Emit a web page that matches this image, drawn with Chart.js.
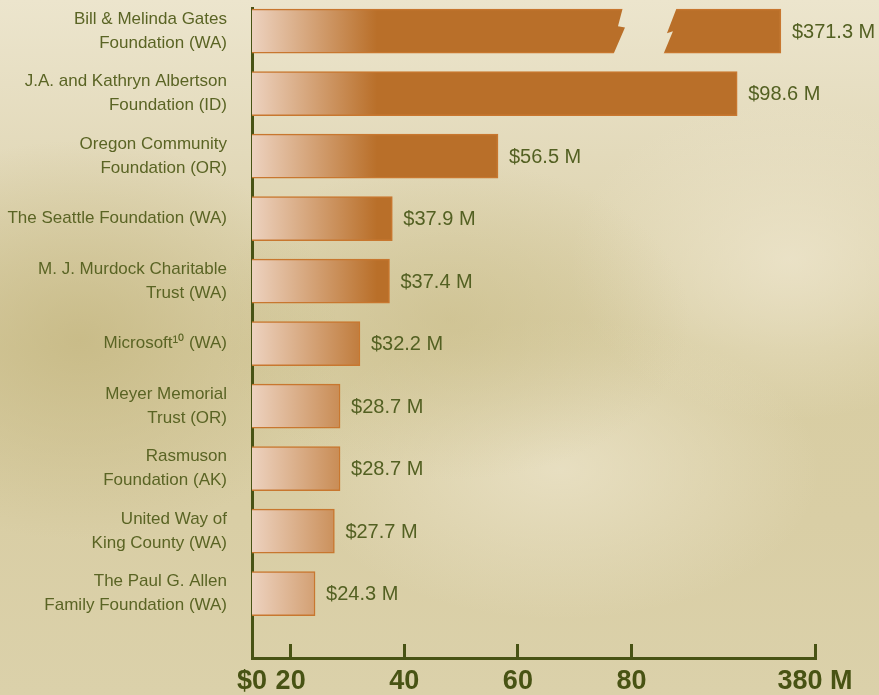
<!DOCTYPE html>
<html>
<head>
<meta charset="utf-8">
<script src="https://cdn.jsdelivr.net/npm/chart.js@4"></script>
<style>
  html, body { margin: 0; padding: 0; }
  body {
    width: 879px;
    height: 695px;
    overflow: hidden;
    background:
      radial-gradient(ellipse 260px 200px at 80px 340px, rgba(196, 182, 128, 0.75), rgba(196, 182, 128, 0)),
      radial-gradient(ellipse 240px 160px at 450px 320px, rgba(200, 187, 135, 0.55), rgba(200, 187, 135, 0)),
      radial-gradient(ellipse 220px 160px at 790px 260px, rgba(238, 230, 206, 0.75), rgba(238, 230, 206, 0)),
      radial-gradient(ellipse 260px 150px at 560px 470px, rgba(236, 228, 202, 0.75), rgba(236, 228, 202, 0)),
      linear-gradient(to bottom, #ece5cd 0%, #e3dabb 22%, #d8cda2 50%, #d9cea5 75%, #dbd1aa 100%);
  }
  canvas { display: block; }
</style>
</head>
<body>
<canvas id="chart" width="879" height="695"></canvas>
<script>
// top ten foundations by giving, $ millions
const FOUNDATIONS = [
  ["Bill & Melinda Gates", "Foundation (WA)"],
  ["J.A. and Kathryn Albertson", "Foundation (ID)"],
  ["Oregon Community", "Foundation (OR)"],
  ["The Seattle Foundation (WA)"],
  ["M. J. Murdock Charitable", "Trust (WA)"],
  ["Microsoft¹⁰ (WA)"],
  ["Meyer Memorial", "Trust (OR)"],
  ["Rasmuson", "Foundation (AK)"],
  ["United Way of", "King County (WA)"],
  ["The Paul G. Allen", "Family Foundation (WA)"]
];
const GIVING = [371.3, 98.6, 56.5, 37.9, 37.4, 32.2, 28.7, 28.7, 27.7, 24.3];
const X_TICKS = [20, 40, 60, 80];
const X_START_LABEL = "$0";
const X_END_LABEL = "380 M";

// broken axis: everything above 100 gets squeezed into the last stretch
const AXIS_BREAK = 100;
const BREAK_RATIO = 0.0232;
const X_MIN = 13.2;
const X_MAX = 112.3;
const GAP_FROM = 78.5;
const GAP_TO = 88.0;

const SANS = '"Liberation Sans", Arial, sans-serif';
const AXIS_COLOR = "#485314";
const LABEL_COLOR = "#5a6424";
const VALUE_COLOR = "#536022";

function toAxis(v) {
  return v <= AXIS_BREAK ? v : AXIS_BREAK + (v - AXIS_BREAK) * BREAK_RATIO;
}

function barFill(context) {
  const area = context.chart.chartArea;
  if (!area) return "#b96f29";
  const g = context.chart.ctx.createLinearGradient(area.left, 0, area.left + 125, 0);
  g.addColorStop(0, "#edd2bf");
  g.addColorStop(1, "#b96f29");
  return g;
}

function noEdgePadding(s) {
  s.paddingTop = 0;
  s.paddingBottom = 0;
  s.paddingLeft = 0;
  s.paddingRight = 0;
}

const valueLabels = {
  id: "valueLabels",
  afterDatasetsDraw(chart) {
    const { ctx } = chart;
    const xs = chart.scales.x;
    const meta = chart.getDatasetMeta(0);

    // cut the zigzag break out of any bar that runs past the break
    ctx.save();
    ctx.globalCompositeOperation = "destination-out";
    meta.data.forEach((bar, i) => {
      if (GIVING[i] <= AXIS_BREAK) return;
      const xl = xs.getPixelForValue(GAP_FROM);
      const xr = xs.getPixelForValue(GAP_TO);
      const h = bar.height;
      const yt = bar.y - h / 2;
      const yb = bar.y + h / 2;
      ctx.beginPath();
      ctx.moveTo(xl, yt - 2);
      ctx.lineTo(xr, yt - 2);
      ctx.lineTo(xr - 10, yt + h * 0.55);
      ctx.lineTo(xr - 4, yt + h * 0.5);
      ctx.lineTo(xr - 14, yb + 2);
      ctx.lineTo(xl - 10, yb + 2);
      ctx.lineTo(xl + 2, yt + h * 0.42);
      ctx.lineTo(xl - 5, yt + h * 0.39);
      ctx.closePath();
      ctx.fill();
    });
    ctx.restore();

    ctx.save();
    ctx.font = "20px " + SANS;
    ctx.fillStyle = VALUE_COLOR;
    ctx.textAlign = "left";
    ctx.textBaseline = "middle";
    meta.data.forEach((bar, i) => {
      ctx.fillText("$" + GIVING[i].toFixed(1) + " M", bar.x + 11, bar.y + 1);
    });
    ctx.restore();
  }
};

new Chart(document.getElementById("chart"), {
  type: "bar",
  data: {
    datasets: [{
      data: GIVING.map((v, i) => ({ x: toAxis(v), y: i })),
      backgroundColor: barFill,
      borderColor: "#c8772f",
      borderWidth: 1.5,
      barThickness: 44
    }]
  },
  options: {
    indexAxis: "y",
    responsive: false,
    animation: false,
    devicePixelRatio: 1,
    layout: { padding: { top: 8, right: 64, left: 0, bottom: 0 } },
    plugins: {
      legend: { display: false },
      tooltip: { enabled: false }
    },
    scales: {
      x: {
        type: "linear",
        min: X_MIN,
        max: X_MAX,
        afterBuildTicks: (s) => { s.ticks = [X_MIN, ...X_TICKS, X_MAX].map((v) => ({ value: v })); },
        afterFit: (s) => { s.height = 37; noEdgePadding(s); },
        grid: { drawOnChartArea: false, drawTicks: true, tickLength: -14, color: AXIS_COLOR, lineWidth: 3 },
        border: { display: true, color: AXIS_COLOR, width: 3 },
        ticks: {
          autoSkip: false,
          maxRotation: 0,
          padding: 21,
          color: AXIS_COLOR,
          font: { family: SANS, size: 27, weight: "bold" },
          callback: (v) => (v === X_MIN ? X_START_LABEL : v === X_MAX ? X_END_LABEL : String(v))
        }
      },
      y: {
        type: "linear",
        reverse: true,
        offset: false,
        bounds: "data",
        min: -0.37,
        max: 10.03,
        afterBuildTicks: (s) => { s.ticks = FOUNDATIONS.map((_, i) => ({ value: i })); },
        afterFit: (s) => { s.width = 252; noEdgePadding(s); },
        grid: { display: false, offset: false },
        border: { display: true, color: AXIS_COLOR, width: 3 },
        ticks: {
          padding: 17,
          color: LABEL_COLOR,
          font: { family: SANS, size: 17, lineHeight: 1.4 },
          callback: (v) => FOUNDATIONS[v]
        }
      }
    }
  },
  plugins: [valueLabels]
});
</script>
</body>
</html>
